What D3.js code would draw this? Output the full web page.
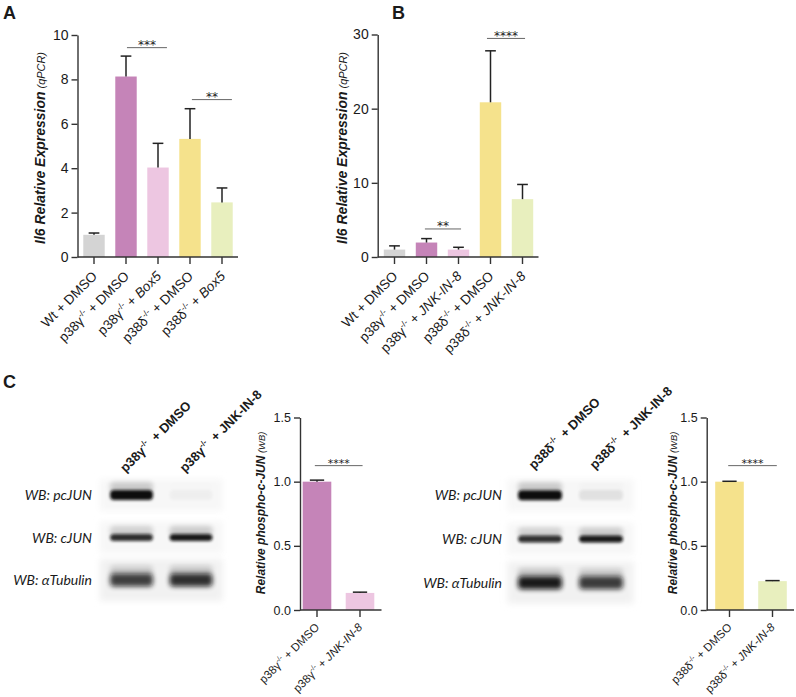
<!DOCTYPE html>
<html>
<head>
<meta charset="utf-8">
<script src="https://cdn.jsdelivr.net/npm/d3@7"></script>
<style>
  body { margin: 0; background: #fff; }
  text { font-family: Arial, "Liberation Sans", sans-serif; fill: #1a1a1a; }
</style>
</head>
<body>
<script>
// ---- panel A : Il6 qPCR, Box5
var aGeno  = ["Wt", "p38γ", "p38γ", "p38δ", "p38δ"];
var aTreat = ["DMSO", "DMSO", "Box5", "DMSO", "Box5"];
var aMean  = [1.0, 8.13, 4.03, 5.32, 2.46];
var aSd    = [0.08, 0.92, 1.09, 1.36, 0.65];
var aTicks = [0, 2, 4, 6, 8, 10];
var aSig   = [[1.03, 2.28, 9.43, "***"], [3.06, 4.31, 7.09, "**"]];

// ---- panel B : Il6 qPCR, JNK-IN-8
var bGeno  = ["Wt", "p38γ", "p38γ", "p38δ", "p38δ"];
var bTreat = ["DMSO", "DMSO", "JNK-IN-8", "DMSO", "JNK-IN-8"];
var bMean  = [1.0, 1.95, 1.0, 20.86, 7.8];
var bSd    = [0.5, 0.53, 0.31, 6.94, 1.98];
var bTicks = [0, 10, 20, 30];
var bSig   = [[0.95, 2.08, 3.78, "**"], [2.89, 4.08, 29.47, "****"]];

// ---- panel C : phospho-c-JUN quantification
var c1Geno  = ["p38γ", "p38γ"];
var c2Geno  = ["p38δ", "p38δ"];
var cTreat  = ["DMSO", "JNK-IN-8"];
var c1Mean  = [1.0, 0.133];
var c1Sd    = [0.012, 0.006];
var c2Mean  = [1.0, 0.225];
var c2Sd    = [0.003, 0.004];
var cTicks  = [0, 0.5, 1.0, 1.5];
var c1Sig   = [[-0.05, 1.06, 1.125, "****"]];
var c2Sig   = [[-0.03, 1.10, 1.125, "****"]];

// ---- western blots: band intensity per row, per lane
var blotRows = ["pcJUN", "cJUN", "αTubulin"];
var blot1 = [[1.0, 0.03], [0.85, 0.95], [0.78, 0.85]];
var blot2 = [[1.0, 0.09], [0.85, 0.95], [0.95, 0.8]];

var colAll = ["#d4d4d4", "#c584b8", "#edc6e1", "#f5e28c", "#e8efbe"];

var svg = d3.select("body").append("svg")
    .attr("width", 796).attr("height", 697);

var defs = svg.append("defs");
defs.append("filter").attr("id", "blur1").attr("x", "-30%").attr("y", "-80%").attr("width", "160%").attr("height", "260%")
    .append("feGaussianBlur").attr("stdDeviation", 1.4);
defs.append("filter").attr("id", "blur2").attr("x", "-30%").attr("y", "-80%").attr("width", "160%").attr("height", "260%")
    .append("feGaussianBlur").attr("stdDeviation", 2.6);
defs.append("filter").attr("id", "soft").attr("x", "-20%").attr("y", "-40%").attr("width", "140%").attr("height", "180%")
    .append("feGaussianBlur").attr("stdDeviation", 3);

function letter(t, x, y) {
    svg.append("text").attr("x", x).attr("y", y).text(t)
        .style("font-size", "18px").style("font-weight", "bold");
}

function xLabel(g, geno, treat, fs) {
    g.append("tspan").text(geno);
    if (geno !== "Wt") {
        g.append("tspan").text("-/-").style("font-size", (fs * 0.62) + "px").attr("dy", -fs * 0.42);
        g.append("tspan").text(" + ").attr("dy", fs * 0.42);
    } else {
        g.append("tspan").text(" + ");
    }
    g.append("tspan").text(treat).style("font-style", treat === "DMSO" ? "normal" : "italic");
}

function barPanel(o) {
    var g = svg.append("g");
    var n = o.mean.length;
    var x = d3.scaleBand().domain(d3.range(n)).range(o.xr)
        .paddingInner(o.pad).paddingOuter(o.pad / 2);
    var y = d3.scaleLinear().domain([0, o.ticks[o.ticks.length - 1]]).range(o.yr);
    var cx = function(f) { return x(0) + x.bandwidth() / 2 + f * x.step(); };

    var ya = g.append("g").attr("transform", "translate(" + o.ax + ",0)")
        .call(d3.axisLeft(y).tickValues(o.ticks).tickSize(6).tickSizeOuter(0)
            .tickPadding(3).tickFormat(o.fmt));
    ya.select(".domain").attr("stroke", "#333").attr("stroke-width", 1.4);
    ya.selectAll(".tick line").attr("stroke", "#333").attr("stroke-width", 1.4);
    ya.selectAll(".tick text").style("font-size", o.tfs + "px")
        .style("font-family", "Arial, 'Liberation Sans', sans-serif").attr("fill", "#1a1a1a");

    g.selectAll(".bar").data(o.mean).enter().append("rect")
        .attr("x", function(d, i) { return x(i); })
        .attr("width", x.bandwidth())
        .attr("y", function(d) { return y(d); })
        .attr("height", function(d) { return y(0) - y(d); })
        .attr("fill", function(d, i) { return o.colors[i]; });

    // error bars (upper only)
    o.mean.forEach(function(m, i) {
        var c = cx(i), top = y(m + o.sd[i]), cap = x.bandwidth() * 0.25;
        g.append("line").attr("x1", c).attr("x2", c).attr("y1", y(m)).attr("y2", top)
            .attr("stroke", "#222").attr("stroke-width", 1.5);
        g.append("line").attr("x1", c - cap).attr("x2", c + cap).attr("y1", top).attr("y2", top)
            .attr("stroke", "#222").attr("stroke-width", 1.5);
    });

    // x axis
    g.append("line").attr("x1", o.ax).attr("x2", o.xr[1]).attr("y1", y(0)).attr("y2", y(0))
        .attr("stroke", "#333").attr("stroke-width", 1.4);
    o.mean.forEach(function(m, i) {
        g.append("line").attr("x1", cx(i)).attr("x2", cx(i)).attr("y1", y(0)).attr("y2", y(0) + 7)
            .attr("stroke", "#333").attr("stroke-width", 1.4);
        var t = g.append("text")
            .attr("transform", "translate(" + (cx(i) + o.lx) + "," + (y(0) + o.ly) + ") rotate(-45)")
            .attr("text-anchor", "end").style("font-size", o.xfs + "px");
        xLabel(t, o.geno[i], o.treat[i], o.xfs);
    });

    // significance
    o.sig.forEach(function(s) {
        var yy = y(s[2]);
        g.append("line").attr("x1", cx(s[0])).attr("x2", cx(s[1])).attr("y1", yy).attr("y2", yy)
            .attr("stroke", "#666").attr("stroke-width", 1);
        g.append("text").attr("x", (cx(s[0]) + cx(s[1])) / 2).attr("y", yy + 1.5)
            .attr("text-anchor", "middle").style("font-family", "'DejaVu Sans', sans-serif")
            .style("font-size", o.sfs + "px").text(s[3]);
    });

    // y title
    var yt = g.append("text")
        .attr("transform", "translate(" + o.yl[0] + "," + o.yl[1] + ") rotate(-90)")
        .attr("text-anchor", "middle")
        .style("font-size", o.yfs + "px").style("font-style", "italic").style("font-weight", "bold");
    yt.append("tspan").text(o.ytitle[0]);
    yt.append("tspan").text(" " + o.ytitle[1]).style("font-size", (o.yfs * 0.78) + "px")
        .style("font-weight", "normal");
}

function blot(o) {
    var g = svg.append("g");
    var lane = d3.scaleBand().domain([0, 1]).range(o.xr);
    var row = d3.scaleBand().domain(blotRows).range(o.yr);
    var bandH = [10, 7, 13];
    var boxH = [32, 32, 42];
    blotRows.forEach(function(r, ri) {
        var cy = row(r) + row.bandwidth() / 2;
        g.append("rect").attr("x", o.xr[0] - 2).attr("width", o.xr[1] - o.xr[0] + 4)
            .attr("y", cy - boxH[ri] / 2).attr("height", boxH[ri])
            .attr("fill", ri === 2 ? "#f1f1f1" : "#f7f7f7").attr("filter", "url(#soft)");
        o.data[ri].forEach(function(v, li) {
            var c = lane(li) + lane.bandwidth() / 2;
            var w = lane.bandwidth() * 0.72;
            // faint smear above the band
            g.append("rect").attr("x", c - w / 2).attr("width", w)
                .attr("y", cy - bandH[ri] / 2 - 8).attr("height", 10).attr("rx", 4)
                .attr("fill", "#000").attr("opacity", v * 0.18).attr("filter", "url(#blur2)");
            g.append("rect").attr("x", c - w / 2).attr("width", w)
                .attr("y", cy - bandH[ri] / 2).attr("height", bandH[ri]).attr("rx", 4)
                .attr("fill", "#0d0d0d").attr("opacity", v)
                .attr("filter", ri === 2 ? "url(#blur2)" : "url(#blur1)");
        });
        g.append("text").attr("x", o.lx).attr("y", cy + 5).attr("text-anchor", "end")
            .style("font-family", "Lato, 'Open Sans', sans-serif").style("font-style", "italic")
            .style("font-size", "14px").text("WB: " + r);
    });
    // lane headers
    [0, 1].forEach(function(li) {
        var c = lane(li) + lane.bandwidth() / 2;
        var t = g.append("text")
            .attr("transform", "translate(" + (c - 6) + "," + o.hy + ") rotate(-45)")
            .style("font-size", "13px").style("font-weight", "bold");
        t.append("tspan").text(o.geno);
        t.append("tspan").text("-/-").style("font-size", "8px").attr("dy", -5.5);
        t.append("tspan").text("  + " + cTreat[li]).attr("dy", 5.5).attr("dx", 3);
    });
}

letter("A", 3, 18.5);
letter("B", 392, 18.5);
letter("C", 3, 388);

barPanel({
    mean: aMean, sd: aSd, geno: aGeno, treat: aTreat, ticks: aTicks, sig: aSig,
    colors: colAll, xr: [78, 238], pad: 0.33, yr: [257, 35], ax: 77.5,
    fmt: d3.format("d"), tfs: 14, xfs: 13.5, lx: 4, ly: 20, sfs: 12,
    yl: [45, 148], yfs: 14, ytitle: ["Il6 Relative Expression", "(qPCR)"]
});

barPanel({
    mean: bMean, sd: bSd, geno: bGeno, treat: bTreat, ticks: bTicks, sig: bSig,
    colors: colAll, xr: [378.5, 538.5], pad: 0.33, yr: [257, 34.5], ax: 377.7,
    fmt: d3.format("d"), tfs: 14, xfs: 13.5, lx: 4, ly: 20, sfs: 12,
    yl: [347, 148], yfs: 14, ytitle: ["Il6 Relative Expression", "(qPCR)"]
});

barPanel({
    mean: c1Mean, sd: c1Sd, geno: c1Geno, treat: cTreat, ticks: cTicks, sig: c1Sig,
    colors: [colAll[1], colAll[2]], xr: [295.5, 381.5], pad: 0.335, yr: [610, 417.5], ax: 300,
    fmt: d3.format(".1f"), tfs: 12.5, xfs: 11.5, lx: 3, ly: 18, sfs: 11,
    yl: [265, 513], yfs: 12, ytitle: ["Relative phospho-c-JUN", "(WB)"]
});

barPanel({
    mean: c2Mean, sd: c2Sd, geno: c2Geno, treat: cTreat, ticks: cTicks, sig: c2Sig,
    colors: [colAll[3], colAll[4]], xr: [708, 794], pad: 0.335, yr: [610, 417.5], ax: 706.7,
    fmt: d3.format(".1f"), tfs: 12.5, xfs: 11.5, lx: 3, ly: 18, sfs: 11,
    yl: [677, 513], yfs: 12, ytitle: ["Relative phospho-c-JUN", "(WB)"]
});

blot({ data: blot1, geno: "p38γ", xr: [101.75, 220.75], yr: [473.75, 601.25], lx: 92, hy: 473 });
blot({ data: blot2, geno: "p38δ", xr: [509.5, 631.5], yr: [473.5, 604.5], lx: 502, hy: 470 });
</script>
</body>
</html>
